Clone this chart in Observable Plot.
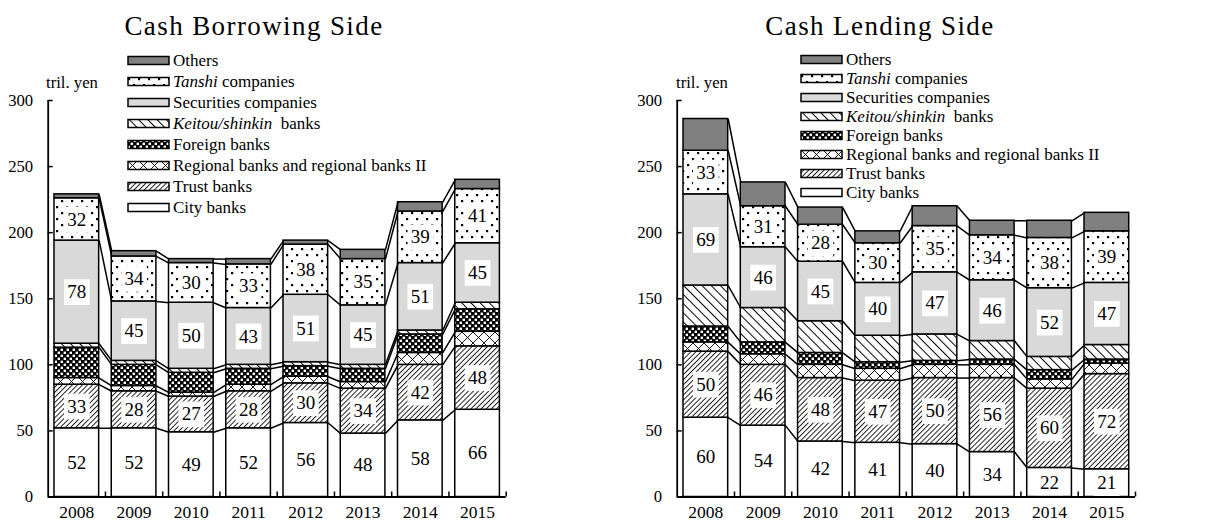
<!DOCTYPE html>
<html><head><meta charset="utf-8">
<script src="https://cdn.jsdelivr.net/npm/d3@7"></script>
<script src="https://cdn.jsdelivr.net/npm/@observablehq/plot@0.6"></script>
<style>
body{margin:0;background:#fff;width:1232px;height:521px;position:relative;overflow:hidden;font-family:"Liberation Serif","Times New Roman",serif;color:#000}
.title{position:absolute;top:11px;font-size:27px;letter-spacing:1.4px;white-space:nowrap;transform:translateX(-50%);font-family:"Liberation Serif",serif}
.unit{position:absolute;top:73px;font-size:16.7px;white-space:nowrap;font-family:"Liberation Serif",serif}
.legend{position:absolute;top:50px;font-size:17px;font-family:"Liberation Serif",serif}
.legend .row{display:flex;align-items:center;white-space:nowrap}
.legend svg{margin-right:3px;display:block}
.panel{position:absolute;top:90px;width:616px;height:431px}
</style></head><body>
<svg width="0" height="0" style="position:absolute">
<defs>
  <pattern id="p-trust" patternUnits="userSpaceOnUse" width="3.6" height="10" patternTransform="rotate(45)">
    <rect width="3.6" height="10" fill="white"/><line x1="0.5" y1="0" x2="0.5" y2="10" stroke="black" stroke-width="0.9"/>
  </pattern>
  <pattern id="p-keitou" patternUnits="userSpaceOnUse" width="6.5" height="10" patternTransform="rotate(-45)">
    <rect width="6.5" height="10" fill="white"/><line x1="0.5" y1="0" x2="0.5" y2="10" stroke="black" stroke-width="1"/>
  </pattern>
  <pattern id="p-regional" patternUnits="userSpaceOnUse" width="11" height="11">
    <rect width="11" height="11" fill="white"/>
    <path d="M0,0L11,11M11,0L0,11" stroke="black" stroke-width="0.9"/>
  </pattern>
  <pattern id="p-foreign" patternUnits="userSpaceOnUse" width="6" height="6">
    <rect width="6" height="6" fill="black"/>
    <rect x="0.6" y="0.6" width="2.4" height="2.4" fill="white"/>
    <rect x="3.6" y="3.6" width="2.4" height="2.4" fill="white"/>
  </pattern>
  <pattern id="p-tanshi" patternUnits="userSpaceOnUse" width="10" height="12">
    <rect width="10" height="12" fill="white"/>
    <rect x="1" y="2" width="2.2" height="2.2" fill="black"/>
    <rect x="6" y="8" width="2.2" height="2.2" fill="black"/>
  </pattern>
</defs></svg>

<div class="title" style="left:254px">Cash Borrowing Side</div>
<div class="title" style="left:880px">Cash Lending Side</div>
<div class="unit" style="left:46px">tril. yen</div>
<div class="unit" style="left:676px">tril. yen</div>
<div id="legL" class="legend" style="left:127px"></div>
<div id="legR" class="legend" style="left:800px"></div>
<div id="left" class="panel" style="left:0px"></div>
<div id="right" class="panel" style="left:616px"></div>

<script>
// ---- data ----
const years = ["2008","2009","2010","2011","2012","2013","2014","2015"];
const seriesNames = ["City banks","Trust banks","Regional banks and regional banks II","Foreign banks","Keitou/shinkin banks","Securities companies","Tanshi companies","Others"];
const seriesLegendHTML = ["City banks","Trust banks","Regional banks and regional banks II","Foreign banks","<i>Keitou/shinkin</i>&nbsp; banks","Securities companies","<i>Tanshi</i> companies","Others"];
const seriesFills = ["white","url(#p-trust)","url(#p-regional)","url(#p-foreign)","url(#p-keitou)","#d9d9d9","url(#p-tanshi)","#808080"];
const labeledSeries = [0, 1, 5, 6];
const yTicks = [0, 50, 100, 150, 200, 250, 300];

// Cash borrowing side (tril. yen)
const borrowCity       = [52, 52, 49, 52, 56, 48, 58, 66];
const borrowTrust      = [33, 28, 27, 28, 30, 34, 42, 48];
const borrowRegional   = [5, 4, 3, 5, 5, 5, 9, 11];
const borrowForeign    = [23, 16, 15, 12, 8, 10, 14, 17];
const borrowKeitou     = [3, 3, 3, 3, 3, 3, 3, 5];
const borrowSecurities = [78, 45, 50, 43, 51, 45, 51, 45];
const borrowTanshi     = [32, 34, 30, 33, 38, 35, 39, 41];
const borrowOthers     = [3, 4, 3, 4, 3, 7, 7, 7];

// Cash lending side (tril. yen)
const lendCity       = [60, 54, 42, 41, 40, 34, 22, 21];
const lendTrust      = [50, 46, 48, 47, 50, 56, 60, 72];
const lendRegional   = [7, 8, 10, 9, 10, 10, 7, 8];
const lendForeign    = [12, 9, 9, 5, 3, 4, 7, 3];
const lendKeitou     = [31, 26, 24, 20, 20, 14, 10, 11];
const lendSecurities = [69, 46, 45, 40, 47, 46, 52, 47];
const lendTanshi     = [33, 31, 28, 30, 35, 34, 38, 39];
const lendOthers     = [24, 18, 13, 9, 15, 11, 13, 14];

const borrowing = [borrowCity, borrowTrust, borrowRegional, borrowForeign, borrowKeitou, borrowSecurities, borrowTanshi, borrowOthers];
const lending = [lendCity, lendTrust, lendRegional, lendForeign, lendKeitou, lendSecurities, lendTanshi, lendOthers];

const HW = 0.39; // half bar width in band units

function build(values) {
  const rects = [], links = [], labels = [];
  const cum = years.map((_, i) => {
    let s = 0;
    return values.map(arr => { const a = s; s += arr[i]; return [a, s]; });
  });
  years.forEach((yr, i) => {
    values.forEach((arr, k) => {
      const [a, b] = cum[i][k];
      rects.push({k, i, x1: i - HW, x2: i + HW, y1: a, y2: b});
      if (labeledSeries.includes(k)) labels.push({i, mid: (a + b) / 2, v: arr[i]});
      if (i < years.length - 1) {
        links.push({x1: i + HW, x2: i + 1 - HW, y1: b, y2: cum[i + 1][k][1]});
      }
    });
  });
  return {rects, links, labels};
}

function chart(values, ml, mr) {
  const {rects, links, labels} = build(values);
  const xTickPos = d3.range(0.5, years.length, 1);
  return Plot.plot({
    width: 616, height: 431,
    marginTop: 10, marginBottom: 24.5, marginLeft: ml, marginRight: mr,
    x: {domain: [-0.5, years.length - 0.5], axis: null},
    y: {domain: [0, 300], axis: null},
    style: {fontFamily: "Liberation Serif, Times New Roman, serif", fontSize: "17px", background: "transparent", overflow: "visible", color: "black"},
    marks: [
      ...seriesFills.map((f, k) => Plot.rect(rects.filter(r => r.k === k), {
        x1: "x1", x2: "x2", y1: "y1", y2: "y2", fill: f, stroke: "black", strokeWidth: 1.5
      })),
      Plot.link(links, {x1: "x1", x2: "x2", y1: "y1", y2: "y2", stroke: "black", strokeWidth: 1.5}),
      Plot.dot(labels, {x: "i", y: "mid", symbol: "square", r: 14.5, fill: "white", stroke: null}),
      Plot.text(labels, {x: "i", y: "mid", text: "v", fontSize: 19, fill: "black"}),
      Plot.ruleX([-0.5], {stroke: "black", strokeWidth: 1.8}),
      Plot.ruleY([0], {stroke: "black", strokeWidth: 1.8}),
      Plot.axisY({ticks: yTicks, tickSize: 5, dx: 5, fill: "none", label: null, strokeWidth: 1.5}),
      Plot.axisY({ticks: yTicks, tickSize: 0, tickPadding: 15, label: null, fontSize: 16.7, fill: "black"}),
      Plot.axisX({ticks: xTickPos, tickSize: 5, dy: -5, fill: "none", label: null, strokeWidth: 1.5}),
      Plot.axisX({ticks: d3.range(years.length), tickSize: 0, tickPadding: 9, tickFormat: i => years[i], label: null, fontSize: 17.5, fill: "black"})
    ]
  });
}

document.getElementById("left").append(chart(borrowing, 47.7, 110.3));
document.getElementById("right").append(chart(lending, 60.7, 97));

function legend(id, rowH) {
  const el = document.getElementById(id);
  for (let k = seriesNames.length - 1; k >= 0; k--) {
    const row = document.createElement("div");
    row.className = "row";
    row.style.height = rowH + "px";
    row.innerHTML = `<svg width="43" height="11"><rect x="1" y="1.5" width="41" height="8" fill="${seriesFills[k]}" stroke="black" stroke-width="1.5"/></svg><span>${seriesLegendHTML[k]}</span>`;
    el.append(row);
  }
}
legend("legL", 21);
legend("legR", 19);
</script>
</body></html>
